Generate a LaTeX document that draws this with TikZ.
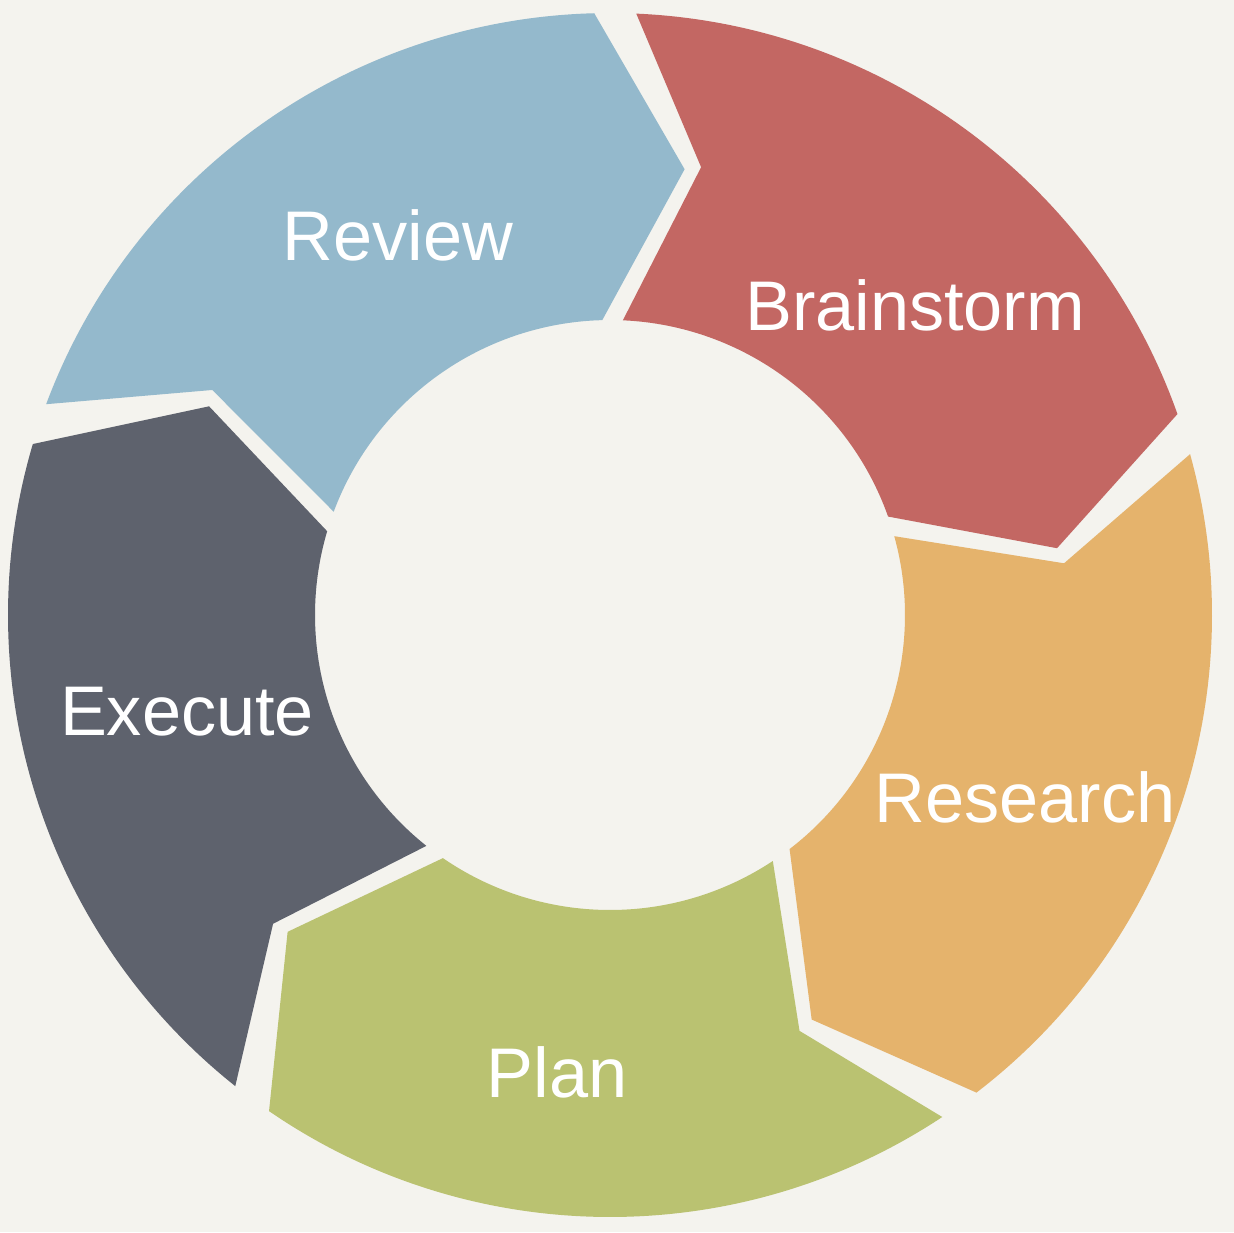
\documentclass[tikz,border=0pt]{standalone}
\usepackage{fontspec}
\setmainfont{Liberation Sans}
\usepackage{xcolor}
\usetikzlibrary{positioning}

\definecolor{bgcol}{HTML}{F4F3EE}
\definecolor{reviewcol}{HTML}{94B9CC}
\definecolor{braincol}{HTML}{C36763}
\definecolor{researchcol}{HTML}{E5B36C}
\definecolor{plancol}{HTML}{BAC271}
\definecolor{execcol}{HTML}{5E626D}

\begin{document}
\begin{tikzpicture}[
  x=0.02cm, y=0.02cm,
  label/.style={
    text=white,
    font=\fontsize{40}{44}\selectfont
  }
]

% Background and frame
\fill[bgcol] (0,0) rectangle (1234,-1232);
\useasboundingbox (0,0) rectangle (1234,-1232);

% Arrow segments, clockwise
\begin{scope}[shift={(610,-615)}]
  \foreach \b/\col in {89.5/braincol, 17.5/researchcol, -54.5/plancol, -126.5/execcol, 161.5/reviewcol}{
    \pgfmathsetmacro{\e}{\b-72}
    \fill[\col] (\b-2:602) arc[start angle=\b-2, end angle=\e+2, radius=602]
      -- (\e-9:452) -- (\e+2:295)
      arc[start angle=\e+2, end angle=\b-2, radius=295]
      -- (\b-11:457) -- cycle;
  }
\end{scope}

% Labels
\node[label] (review) at (398,-235) {Review};
\node[label] (brain) at (915,-305) {Brainstorm};
\node[label] (research) at (1025,-797) {Research};
\node[label] (plan) at (557,-1072) {Plan};
\node[label] (exec) at (187,-712) {Execute};

\end{tikzpicture}
\end{document}
